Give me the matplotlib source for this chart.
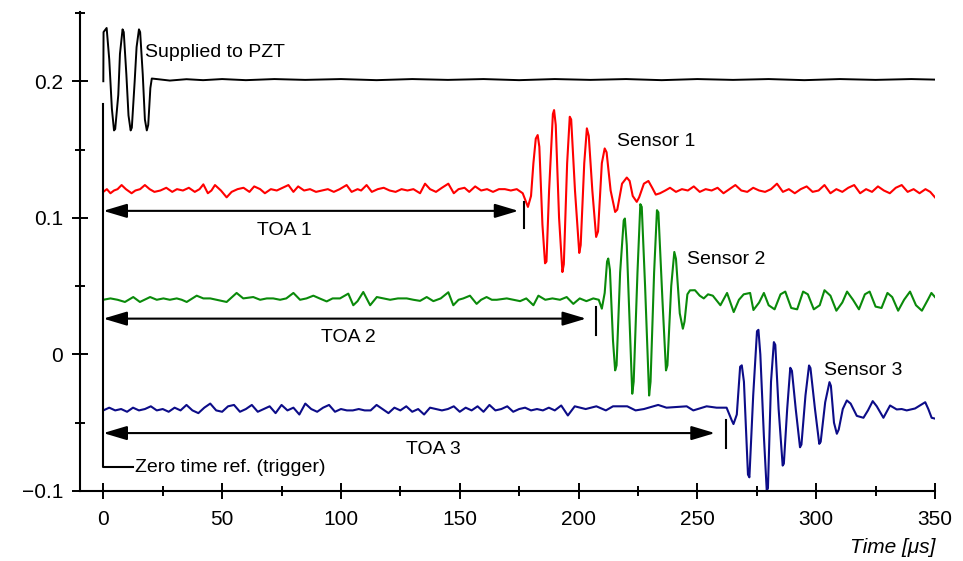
import matplotlib.pyplot as plt
from matplotlib.patches import FancyArrowPatch

plt.rcParams['font.family'] = ['Liberation Sans', 'DejaVu Sans']

# Signal supplied to the PZT (tone burst then flat)
pzt_t = [0, 0.1, 1.4, 2.5, 3.6, 4.5, 5.0, 6.3, 7.0, 8.1, 8.6, 9.7, 10.6, 11.5, 12.0, 13.2, 14.0,
         15.0, 15.5, 16.6, 17.5, 18.3, 18.9, 19.8, 20.4, 23, 28, 35, 42, 50, 60, 72, 85, 100,
         115, 130, 145, 160, 175, 190, 205, 220, 235, 250, 265, 280, 295, 310, 325, 340, 350]
pzt_v = [0.200, 0.236, 0.239, 0.216, 0.180, 0.164, 0.165, 0.190, 0.220, 0.238, 0.236, 0.205,
         0.175, 0.164, 0.166, 0.200, 0.225, 0.238, 0.236, 0.205, 0.172, 0.164, 0.168, 0.195,
         0.202, 0.2015, 0.2005, 0.2015, 0.2008, 0.2016, 0.2008, 0.2016, 0.2010, 0.2016, 0.2008,
         0.2016, 0.2010, 0.2016, 0.2008, 0.2016, 0.2010, 0.2016, 0.2008, 0.2016, 0.2010, 0.2016,
         0.2008, 0.2016, 0.2010, 0.2016, 0.2012]

# Sensor 1 (red)
s1_t = [0, 1.5, 3, 4.5, 6, 7.7, 9.5, 11.9, 13.5, 15.5, 17.5, 19.5, 21.5, 24, 26.5, 29, 31, 33.5,
        36, 38.5, 40.5, 42.1, 44, 45.5, 47, 49.5, 51.9, 54, 56.5, 59, 61.5, 63.5, 66, 68, 70.5,
        73, 75.5, 77.9, 80, 82, 84.5, 87, 89.5, 92, 94.5, 97, 99.5, 102.4, 104.5, 107, 108.5,
        110.8, 113, 115.5, 118, 120.5, 123, 125.5, 128, 130.5, 133.3, 135.4, 137.5, 140, 142.5,
        145.2, 147.5, 149.5, 152, 154, 156.5, 159, 161.5, 164, 166.5, 169, 171.5, 174, 176.5,
        178.7, 180.0, 181.0, 182.0, 182.8, 183.5, 184.8, 185.9, 186.5, 187.6, 189.2, 189.7,
        190.4, 191.8, 193.2, 193.8, 195.2, 196.3, 196.9, 198.5, 200.3, 200.9, 202.4, 203.5,
        204.3, 205.8, 207.4, 208.2, 209.8, 211.0, 211.8, 213.5, 215.4, 216.3, 218.3, 220.3,
        221.5, 222.8, 224.5, 225.5, 227.5, 229.4, 231.0, 232.5, 234.3, 236.5, 238.5, 241, 243.5,
        246, 248.5, 251, 253.5, 256, 258.5, 261, 263.5, 266, 268.5, 271, 273.5, 276, 278.5, 281,
        283.5, 286, 288.5, 291, 293.5, 296, 298.5, 301, 303.5, 306, 308.5, 311, 313.5, 316,
        318.5, 321, 323.5, 326, 328.5, 331, 333.5, 336, 338.5, 341, 343.5, 346, 348, 350]
s1_v = [0.119, 0.121, 0.118, 0.120, 0.121, 0.124, 0.121, 0.118, 0.120, 0.121, 0.124, 0.121,
        0.119, 0.120, 0.122, 0.119, 0.121, 0.120, 0.122, 0.119, 0.121, 0.1245, 0.118, 0.120,
        0.124, 0.120, 0.115, 0.119, 0.121, 0.122, 0.119, 0.123, 0.121, 0.118, 0.121, 0.120,
        0.122, 0.124, 0.119, 0.123, 0.120, 0.121, 0.119, 0.120, 0.121, 0.119, 0.121, 0.124,
        0.119, 0.121, 0.120, 0.124, 0.119, 0.121, 0.122, 0.120, 0.119, 0.121, 0.120, 0.121,
        0.118, 0.125, 0.121, 0.119, 0.122, 0.125, 0.118, 0.121, 0.122, 0.119, 0.123, 0.120,
        0.121, 0.119, 0.121, 0.121, 0.120, 0.121, 0.118,
        0.108, 0.116, 0.140, 0.158, 0.1606, 0.152, 0.095, 0.0667, 0.068, 0.120, 0.176, 0.1789,
        0.168, 0.100, 0.0603, 0.066, 0.140, 0.174, 0.172, 0.120, 0.0743, 0.080, 0.140, 0.1655,
        0.160, 0.120, 0.086, 0.090, 0.140, 0.1508, 0.148, 0.120, 0.1043, 0.106, 0.125, 0.1295,
        0.127, 0.116, 0.1117, 0.115, 0.125, 0.127, 0.122, 0.117,
        0.118, 0.120, 0.122, 0.119, 0.121, 0.120, 0.123, 0.119, 0.121, 0.120, 0.122, 0.118,
        0.121, 0.124, 0.120, 0.119, 0.122, 0.120, 0.119, 0.121, 0.125, 0.119, 0.121, 0.118,
        0.121, 0.123, 0.119, 0.120, 0.124, 0.118, 0.121, 0.119, 0.122, 0.124, 0.118, 0.121,
        0.119, 0.123, 0.120, 0.118, 0.122, 0.124, 0.119, 0.121, 0.118, 0.121, 0.119, 0.115]

# Sensor 2 (green)
s2_t = [0, 3, 6, 9.1, 12.6, 15.4, 19.7, 22.5, 25.3, 28, 30.9, 33, 35.1, 39.3, 42.1, 45, 47.7,
        51.9, 56.1, 58.9, 63.1, 66.0, 68.8, 71.5, 74.4, 77, 80.0, 82.8, 85.5, 88.4, 91, 94.0,
        96.5, 99.6, 103.1, 105.2, 107, 109.4, 112.3, 115.1, 118, 120.7, 124, 127.7, 130.5,
        133.3, 136.1, 138.9, 142, 145.2, 147.3, 149.5, 151.5, 154.3, 157.1, 159, 161.3, 163.5,
        165.6, 169.8, 172.5, 175.4, 178, 181.0, 183.1, 186, 189, 192.2, 195, 197.8, 200.5,
        203.3, 206.2, 208.5, 209.8,
        211.0, 212.0, 212.5, 213.2, 214.5, 215.4, 216.0, 217.5, 219.0, 219.5, 220.3, 221.8,
        222.6, 223.2, 224.8, 226.0, 226.6, 228.0, 229.7, 230.3, 231.8, 233.0, 233.6, 235.3,
        236.8, 237.4, 239.0, 240.3, 241.0, 242.6, 243.9, 244.6, 245.8, 246.9,
        249, 251, 252.7, 254.5, 256.5, 259.7, 262.5, 265.3, 267.5, 269.5, 272.2, 273.6, 276,
        278, 280, 282.5, 285, 287, 289.5, 292, 294.5, 296.5, 299, 301.5, 303.5, 306, 308.5,
        311, 313, 315.5, 318, 320.5, 322.5, 325, 327.5, 330, 332, 334.5, 337, 339.5, 342,
        344.5, 347, 348.5, 350]
s2_v = [0.040, 0.041, 0.040, 0.0384, 0.042, 0.0384, 0.042, 0.040, 0.041, 0.040, 0.041, 0.040,
        0.0384, 0.043, 0.041, 0.041, 0.040, 0.0384, 0.045, 0.041, 0.042, 0.040, 0.041, 0.041,
        0.040, 0.041, 0.045, 0.040, 0.041, 0.043, 0.041, 0.0388, 0.041, 0.041, 0.0445, 0.036,
        0.039, 0.0457, 0.036, 0.042, 0.041, 0.040, 0.041, 0.041, 0.040, 0.0392, 0.042, 0.039,
        0.041, 0.0455, 0.036, 0.040, 0.041, 0.043, 0.037, 0.040, 0.042, 0.040, 0.040, 0.041,
        0.040, 0.039, 0.041, 0.036, 0.043, 0.040, 0.041, 0.040, 0.042, 0.037, 0.041, 0.039,
        0.041, 0.040, 0.0335,
        0.045, 0.068, 0.0702, 0.062, 0.010, -0.0117, -0.008, 0.060, 0.098, 0.0995, 0.080,
        0.010, -0.0288, -0.020, 0.060, 0.110, 0.108, 0.050, -0.0301, -0.020, 0.060, 0.1056,
        0.104, 0.040, -0.0117, -0.008, 0.050, 0.075, 0.070, 0.030, 0.0188, 0.024, 0.044, 0.0469,
        0.047, 0.043, 0.041, 0.044, 0.043, 0.036, 0.045, 0.031, 0.040, 0.044, 0.045, 0.0325,
        0.038, 0.045, 0.036, 0.033, 0.044, 0.046, 0.034, 0.033, 0.046, 0.044, 0.033, 0.036,
        0.047, 0.043, 0.032, 0.038, 0.046, 0.040, 0.033, 0.044, 0.046, 0.035, 0.034, 0.045,
        0.042, 0.032, 0.040, 0.046, 0.036, 0.032, 0.040, 0.045, 0.042]

# Sensor 3 (blue)
s3_t = [0, 2.5, 5, 7.5, 10, 12.5, 15, 17.5, 20, 22.5, 25, 27.5, 30, 32.5, 35, 37.5, 40, 42.5,
        45, 47.5, 50, 52.5, 55, 57.5, 60, 62.5, 65, 67.5, 70, 72.5, 75, 77.5, 80, 82.5, 85,
        87.5, 90, 92.5, 95, 97.5, 100, 102.5, 105, 107.5, 110, 112.5, 115, 117.5, 120, 122.5,
        125, 127.5, 130, 132.5, 135, 137.5, 140, 142.5, 145, 147.5, 150, 152.5, 155, 157.5,
        160, 162.5, 165, 167.5, 170, 172.5, 175, 177.5, 180, 182.5, 185, 187.5, 190, 192.7,
        195.5, 198.4, 203, 207.5, 211.5, 214.5, 220.5, 224, 227.5, 233.5, 237, 245.5, 248.3,
        253.9, 258.1, 262.3,
        264.5, 265.2, 266.6, 268.0, 268.7, 269.6, 271.3, 271.9, 273.5, 275.1, 275.7, 276.5,
        278.0, 279.2, 279.7, 281.0, 282.2, 282.8, 284.2, 285.9, 286.4, 287.8, 289.1, 289.8,
        291.4, 293.2, 293.8, 295.5, 297.0, 297.6, 299.5, 301.3, 301.9, 303.8, 305.6, 306.2,
        307.5, 308.7, 309.5, 311.2, 312.9, 314.5, 317.1, 319.9, 321.8, 323.8, 325.5, 328.3,
        331.1, 333.9, 336, 338.1, 341.6, 344, 345.9, 347.2, 348.6, 350]
s3_v = [-0.041, -0.039, -0.041, -0.040, -0.042, -0.039, -0.041, -0.040, -0.038, -0.041, -0.040,
        -0.042, -0.039, -0.041, -0.037, -0.041, -0.043, -0.039, -0.036, -0.041, -0.042, -0.038,
        -0.037, -0.042, -0.040, -0.037, -0.042, -0.040, -0.038, -0.043, -0.037, -0.041, -0.039,
        -0.044, -0.036, -0.040, -0.042, -0.039, -0.037, -0.042, -0.040, -0.041, -0.041, -0.040,
        -0.041, -0.041, -0.037, -0.040, -0.043, -0.039, -0.041, -0.038, -0.042, -0.040, -0.044,
        -0.039, -0.040, -0.041, -0.040, -0.038, -0.042, -0.039, -0.041, -0.038, -0.042, -0.037,
        -0.041, -0.040, -0.038, -0.042, -0.040, -0.039, -0.041, -0.040, -0.041, -0.039, -0.041,
        -0.0374, -0.0447, -0.038, -0.040, -0.038, -0.041, -0.038, -0.038, -0.041, -0.040,
        -0.037, -0.039, -0.038, -0.041, -0.038, -0.039, -0.039,
        -0.0484, -0.051, -0.044, -0.009, -0.008, -0.020, -0.088, -0.090, -0.030, 0.017, 0.018,
        0.000, -0.060, -0.0997, -0.098, -0.020, 0.009, 0.007, -0.040, -0.0814, -0.080, -0.040,
        -0.0098, -0.012, -0.040, -0.068, -0.066, -0.030, -0.0081, -0.010, -0.040, -0.0655,
        -0.064, -0.035, -0.0203, -0.023, -0.050, -0.0581, -0.055, -0.040, -0.0337, -0.036,
        -0.045, -0.0464, -0.041, -0.0342, -0.038, -0.0464, -0.0374, -0.0403, -0.040, -0.041,
        -0.0396, -0.037, -0.035, -0.040, -0.0464, -0.047]

# Time of arrival annotations
toa_names = ['TOA 1', 'TOA 2', 'TOA 3']
toa_arrow_end = [174.7, 203.2, 257.4]
toa_mark = [177.2, 207.2, 262.1]
toa_level = [0.1051, 0.0262, -0.0576]
toa_mark_lo = [0.0922, 0.0139, -0.0684]
toa_mark_hi = [0.1117, 0.0347, -0.0479]
toa_label_xy = [(76, 0.0905), (103, 0.0121), (138.7, -0.0696)]

fig = plt.figure(figsize=(9.63, 5.61), dpi=100)
ax = fig.add_axes([0.0831, 0.1248, 0.8878, 0.8538])

ax.plot(pzt_t, pzt_v, color='black', lw=1.4)
ax.plot(s1_t, s1_v, color='#ff0000', lw=1.5)
ax.plot(s2_t, s2_v, color='#0a8a0a', lw=1.5)
ax.plot(s3_t, s3_v, color='#0c0c88', lw=1.5)

# zero time reference line
ax.plot([0, 0, 12.6], [0.183, -0.0826, -0.0826], color='black', lw=1.5)
ax.text(13.4, -0.0826, 'Zero time ref. (trigger)', fontsize=14, va='center', ha='left')

for i in range(len(toa_names)):
    arr = FancyArrowPatch((0, toa_level[i]), (toa_arrow_end[i], toa_level[i]),
                          arrowstyle='<|-|>,head_length=14.4,head_width=4.3', mutation_scale=1,
                          color='black', lw=1.5, shrinkA=0, shrinkB=0)
    ax.add_patch(arr)
    ax.plot([toa_mark[i], toa_mark[i]], [toa_mark_lo[i], toa_mark_hi[i]], color='black', lw=1.5)
    ax.text(toa_label_xy[i][0], toa_label_xy[i][1], toa_names[i], fontsize=14,
            ha='center', va='center')

ax.text(17.5, 0.2207, 'Supplied to PZT', fontsize=14, va='center')
ax.text(216.1, 0.1558, 'Sensor 1', fontsize=14, va='center')
ax.text(245.5, 0.0696, 'Sensor 2', fontsize=14, va='center')
ax.text(303.5, -0.0121, 'Sensor 3', fontsize=14, va='center')

ax.set_xlim(-9.8, 350)
ax.set_ylim(-0.1, 0.2507)
ax.set_xticks([0, 50, 100, 150, 200, 250, 300, 350])
ax.set_xticks([25, 75, 125, 175, 225, 275, 325], minor=True)
ax.set_yticks([-0.1, 0, 0.1, 0.2])
ax.set_yticklabels(['\u22120.1', '0', '0.1', '0.2'])
ax.set_yticks([-0.05, 0.05, 0.15, 0.25], minor=True)
ax.tick_params(which='major', direction='inout', length=11.5, width=1.4, labelsize=15)
ax.tick_params(which='minor', direction='inout', length=7, width=1.4)
ax.tick_params(axis='x', pad=8)
ax.tick_params(axis='y', pad=6.5)

for side in ['top', 'right']:
    ax.spines[side].set_visible(False)
for side in ['left', 'bottom']:
    ax.spines[side].set_linewidth(1.5)

ax.set_xlabel('Time [\u03bcs]', fontsize=15, style='italic', loc='right')
ax.xaxis.set_label_coords(1.0, -0.098)

fig.savefig('out.png', dpi=100)
